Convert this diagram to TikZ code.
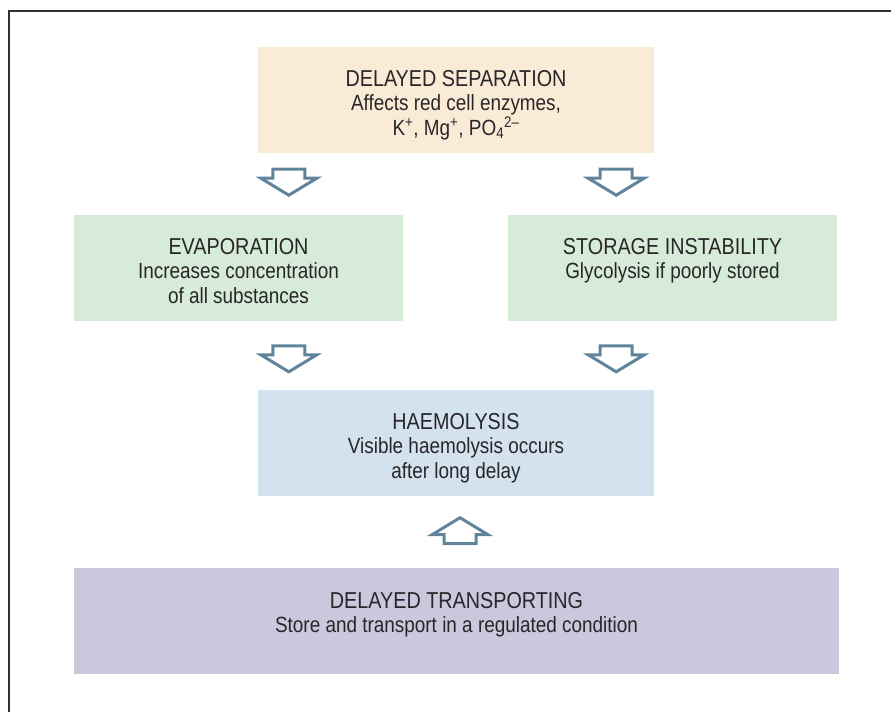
\documentclass[tikz,border=0pt]{standalone}
\usepackage{fontspec}
\setmainfont{Liberation Sans}[FakeStretch=0.86]
\usepackage{tikz}
\usetikzlibrary{calc,positioning}
\definecolor{sepfill}{RGB}{250,235,215}
\definecolor{stepgreen}{RGB}{215,235,217}
\definecolor{haemblue}{RGB}{211,226,238}
\definecolor{transpurple}{RGB}{201,200,220}
\definecolor{arrowblue}{RGB}{96,132,156}
\definecolor{textgray}{RGB}{40,38,40}
\definecolor{framegray}{RGB}{50,50,50}
\newcommand{\boxtitle}[1]{{\fontsize{23}{25}\selectfont #1}}
\tikzset{
  box/.style={rectangle, draw=none, minimum height=106pt, inner sep=0pt},
  sepbox/.style={box, fill=sepfill, minimum width=396pt},
  greenbox/.style={box, fill=stepgreen, minimum width=329pt},
  haembox/.style={box, fill=haemblue, minimum width=396pt},
  transbox/.style={box, fill=transpurple, minimum width=765pt},
  boxtext/.style={anchor=north, align=center, inner sep=0pt, text=textgray,
                  font=\fontsize{22}{24.5}\selectfont},
  hollowarrow/.style={draw=arrowblue, fill=white, line width=3pt, line join=miter},
  frameline/.style={draw=framegray, line width=1.5pt},
  pics/downarrow/.style={code={
    \draw[hollowarrow] (-16,-13) -- (16,-13) -- (16,-4) -- (28,-4) -- (0,13)
      -- (-28,-4) -- (-16,-4) -- cycle;}},
}
\begin{document}
\begin{tikzpicture}[x=1pt, y=-1pt]
\useasboundingbox (0,0) rectangle (891,712);

% frame, open to the right and at the bottom
\draw[frameline] (9,712) -- (9,11) -- (891,11);

% ============================ boxes =================================
\node[sepbox] (sep) at (456,100) {};
\node[boxtext] (septext) at ([yshift=-23pt]sep.north)
  {\boxtitle{DELAYED SEPARATION}\\Affects red cell enzymes,\\
   K\textsuperscript{+}, Mg\textsuperscript{+}, PO\textsubscript{4}\textsuperscript{2–}};

\node[greenbox] (evap) at (238.5,268) {};
\node[boxtext] (evaptext) at ([yshift=-23pt]evap.north)
  {\boxtitle{EVAPORATION}\\Increases concentration\\of all substances};

\node[greenbox] (store) at (672.5,268) {};
\node[boxtext] (storetext) at ([yshift=-23pt]store.north)
  {\boxtitle{STORAGE INSTABILITY}\\Glycolysis if poorly stored};

\node[haembox] (haem) at (456,443) {};
\node[boxtext] (haemtext) at ([yshift=-23pt]haem.north)
  {\boxtitle{HAEMOLYSIS}\\Visible haemolysis occurs\\after long delay};

\node[transbox] (trans) at (456.5,621) {};
\node[boxtext] (transtext) at ([yshift=-24pt]trans.north)
  {\boxtitle{DELAYED TRANSPORTING}\\Store and transport in a regulated condition};

% ============================ block arrows ==========================
\pic at ($(sep.south west)+(31,29)$) {downarrow};
\pic at ($(sep.south east)+(-38,29)$) {downarrow};
\pic at ($(haem.north west)+(31,-31)$) {downarrow};
\pic at ($(haem.north east)+(-38,-31)$) {downarrow};
% transport feeds haemolysis from below
\pic[yscale=-1] at ($(haem.south)+(4,34.5)$) {downarrow};

\end{tikzpicture}
\end{document}
